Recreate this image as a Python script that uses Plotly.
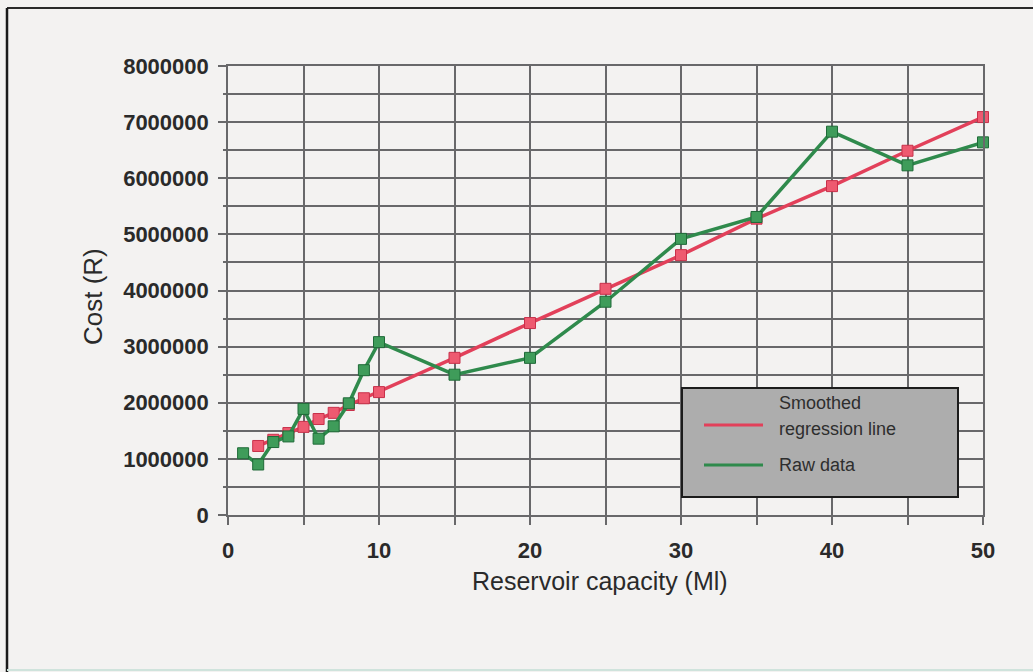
import plotly.graph_objects as go

# ---- data ----
capacity_raw = [1, 2, 3, 4, 5, 6, 7, 8, 9, 10, 15, 20, 25, 30, 35, 40, 45, 50]
cost_raw = [1100000, 900000, 1300000, 1400000, 1890000, 1360000, 1580000, 1990000,
            2580000, 3080000, 2500000, 2800000, 3800000, 4920000, 5310000, 6830000,
            6230000, 6640000]

capacity_smooth = [2, 3, 4, 5, 6, 7, 8, 9, 10, 15, 20, 25, 30, 35, 40, 45, 50]
cost_smooth = [1230000, 1340000, 1460000, 1570000, 1710000, 1820000, 1960000,
               2080000, 2190000, 2800000, 3420000, 4030000, 4630000, 5280000,
               5860000, 6490000, 7090000]

series_names = ["Smoothed regression line", "Raw data"]
x_title = "Reservoir capacity (Ml)"
y_title = "Cost (R)"

RED_LINE = "#e2405a"
RED_FILL = "#ee5a70"
RED_EDGE = "#c8304a"
GREEN_LINE = "#2f8a4c"
GREEN_FILL = "#3f9c5a"
GREEN_EDGE = "#1f6a38"
GRID = "#68686a"
BG = "#f3f2f1"
FONT = "Liberation Sans, Arial, sans-serif"

W, H = 1033, 672
L, R, T, B = 228, 983, 66, 515


def px(xp):
    return (xp - L) / (R - L)


def py(yp):
    return (B - yp) / (B - T)


fig = go.Figure()
fig.add_trace(go.Scatter(
    x=capacity_smooth, y=cost_smooth, name=series_names[0], mode="lines+markers",
    line=dict(color=RED_LINE, width=3.5),
    marker=dict(symbol="square", size=11, color=RED_FILL, line=dict(color=RED_EDGE, width=1)),
    showlegend=False, cliponaxis=False,
))
fig.add_trace(go.Scatter(
    x=capacity_raw, y=cost_raw, name=series_names[1], mode="lines+markers",
    line=dict(color=GREEN_LINE, width=3.5),
    marker=dict(symbol="square", size=11, color=GREEN_FILL, line=dict(color=GREEN_EDGE, width=1)),
    showlegend=False, cliponaxis=False,
))

shapes = []
# outer frame of the scanned figure
shapes.append(dict(type="line", xref="paper", yref="paper", x0=px(7), x1=px(1040),
                   y0=py(8), y1=py(8), line=dict(color="#2a2a2a", width=2), layer="above"))
shapes.append(dict(type="line", xref="paper", yref="paper", x0=px(7), x1=px(7),
                   y0=py(8), y1=py(680), line=dict(color="#1a1a1a", width=2.5), layer="above"))
shapes.append(dict(type="line", xref="paper", yref="paper", x0=px(7), x1=px(1040),
                   y0=py(670), y1=py(670), line=dict(color="#cfe3dc", width=2), layer="above"))

# custom legend box
shapes.append(dict(type="rect", xref="paper", yref="paper", x0=px(682), x1=px(958),
                   y0=py(497), y1=py(388), fillcolor="#adadad",
                   line=dict(color="#1c1c1c", width=2), layer="above"))
shapes.append(dict(type="line", xref="paper", yref="paper", x0=px(704), x1=px(763),
                   y0=py(425), y1=py(425), line=dict(color=RED_LINE, width=3), layer="above"))
shapes.append(dict(type="line", xref="paper", yref="paper", x0=px(704), x1=px(763),
                   y0=py(465), y1=py(465), line=dict(color=GREEN_LINE, width=3), layer="above"))

LEG_FONT = dict(family=FONT, size=18, color="#2e2e2e")
annotations = [
    dict(text="Smoothed", xref="paper", yref="paper", x=px(777), y=py(403),
         xanchor="left", yanchor="middle", showarrow=False, font=LEG_FONT),
    dict(text="regression line", xref="paper", yref="paper", x=px(777), y=py(429),
         xanchor="left", yanchor="middle", showarrow=False, font=LEG_FONT),
    dict(text=series_names[1], xref="paper", yref="paper", x=px(777), y=py(465),
         xanchor="left", yanchor="middle", showarrow=False, font=LEG_FONT),
    dict(text=x_title, xref="paper", yref="paper", x=px(600), y=py(581),
         xanchor="center", yanchor="middle", showarrow=False,
         font=dict(family=FONT, size=25, color="#2a2a2a")),
    dict(text=y_title, xref="paper", yref="paper", x=px(93), y=py(297),
         xanchor="center", yanchor="middle", showarrow=False, textangle=-90,
         font=dict(family=FONT, size=26, color="#2a2a2a")),
]

fig.update_layout(
    width=W, height=H,
    margin=dict(l=L, r=W - R, t=T, b=H - B, pad=0),
    paper_bgcolor=BG, plot_bgcolor=BG,
    showlegend=False,
    shapes=shapes, annotations=annotations,
    font=dict(family=FONT, color="#2a2a2a"),
)

TICK_FONT = dict(family=FONT, size=22, color="#2a2a2a", weight="bold")
fig.update_xaxes(
    range=[0, 50], dtick=10, tick0=0, showgrid=True, gridcolor=GRID, gridwidth=1.6,
    ticks="outside", ticklen=8, tickwidth=1.6, tickcolor=GRID,
    minor=dict(dtick=5, showgrid=True, gridcolor=GRID, gridwidth=1.6,
               ticks="outside", ticklen=8, tickcolor=GRID, tickwidth=1.6),
    showline=True, linecolor=GRID, linewidth=1.6, mirror=True, zeroline=False,
    tickfont=TICK_FONT,
    ticklabelstandoff=7,
)
fig.update_yaxes(
    range=[0, 8000000], dtick=1000000, tick0=0, showgrid=True, gridcolor=GRID, gridwidth=1.6,
    ticks="outside", ticklen=8, tickwidth=1.6, tickcolor=GRID,
    minor=dict(dtick=500000, showgrid=True, gridcolor=GRID, gridwidth=1.6,
               ticks="outside", ticklen=3, tickcolor=GRID, tickwidth=1.6),
    showline=True, linecolor=GRID, linewidth=1.6, mirror=True, zeroline=False,
    tickformat="d",
    tickfont=TICK_FONT,
    ticklabelstandoff=5,
)

fig.write_html("out.html")
